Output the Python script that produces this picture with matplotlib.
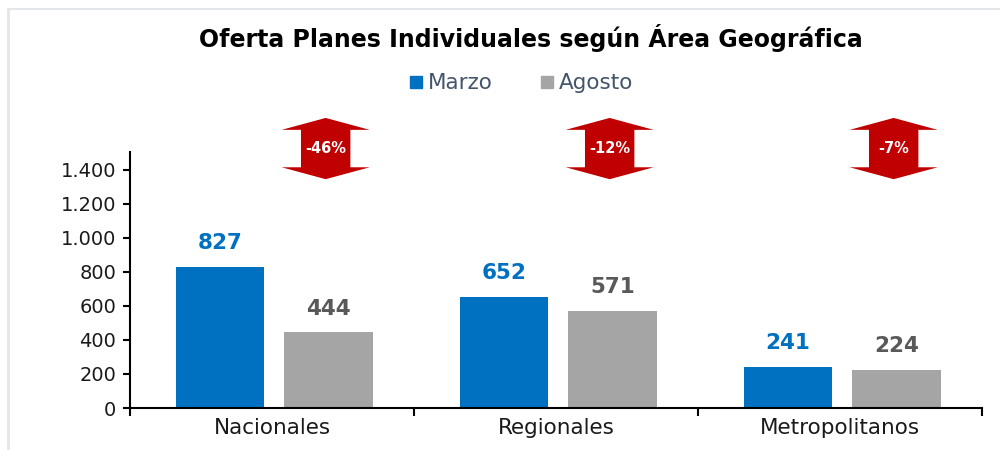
import matplotlib
matplotlib.use("Agg")
import matplotlib.pyplot as plt
from matplotlib.patches import Polygon
from matplotlib.lines import Line2D
import numpy as np

categories = ["Nacionales", "Regionales", "Metropolitanos"]
marzo = [827, 652, 241]
agosto = [444, 571, 224]
variacion = ["-46%", "-12%", "-7%"]
yticks = [0, 200, 400, 600, 800, 1000, 1200, 1400]
ytick_labels = ["0", "200", "400", "600", "800", "1.000", "1.200", "1.400"]

c_marzo = "#0070C0"
c_agosto = "#A5A5A5"
c_arrow = "#C00000"

fig = plt.figure(figsize=(10, 4.5), dpi=100)
ax = fig.add_axes([0.13, 0.0933, 0.852, 0.569])

x = np.arange(len(categories))
w = 0.31
off_m, off_a = -0.183, 0.199
ax.bar(x + off_m, marzo, w, color=c_marzo)
ax.bar(x + off_a, agosto, w, color=c_agosto)

for xi, v in zip(x + off_m, marzo):
    ax.annotate(f"{v}", (xi, v), xytext=(0, 10), textcoords="offset points",
                ha="center", va="bottom", fontsize=15.5, fontweight="bold",
                color=c_marzo)
for xi, v in zip(x + off_a, agosto):
    ax.annotate(f"{v}", (xi, v), xytext=(0, 10), textcoords="offset points",
                ha="center", va="bottom", fontsize=15.5, fontweight="bold",
                color="#595959")

# double arrows
top, bot, h = 1705, 1345, 70
hw, sw = 0.155, 0.087
for xi, lab in zip(x + off_a, variacion):
    xc = xi - 0.01
    pts = [(xc, top), (xc + hw, top - h), (xc + sw, top - h), (xc + sw, bot + h),
           (xc + hw, bot + h), (xc, bot), (xc - hw, bot + h), (xc - sw, bot + h),
           (xc - sw, top - h), (xc - hw, top - h)]
    ax.add_patch(Polygon(pts, closed=True, facecolor=c_arrow, edgecolor="none",
                         clip_on=False))
    ax.text(xc, (top + bot) / 2, lab, ha="center", va="center", color="white",
            fontsize=10.5, fontweight="bold", clip_on=False)

ax.set_xlim(-0.5, 2.5)
ax.set_ylim(0, 1505)
ax.set_yticks(yticks)
ax.set_yticklabels(ytick_labels)
ax.set_xticks(x)
ax.set_xticklabels(categories)
ax.set_xticks([-0.5, 0.5, 1.5, 2.5], minor=True)
ax.tick_params(axis="x", which="major", length=0, pad=7, labelsize=15.5,
               labelcolor="#1a1a1a")
ax.tick_params(axis="x", which="minor", length=6, width=1.5, direction="out")
ax.tick_params(axis="y", length=5, width=1.5, direction="out", pad=5,
               labelsize=14, labelcolor="#1a1a1a")
for s in ["top", "right"]:
    ax.spines[s].set_visible(False)
for s in ["left", "bottom"]:
    ax.spines[s].set_linewidth(1.5)
    ax.spines[s].set_color("black")

fig.text(0.531, 0.915, "Oferta Planes Individuales según Área Geográfica",
         ha="center", va="center", fontsize=17, fontweight="bold", color="black")

handles = [Line2D([], [], marker="s", linestyle="none", markersize=9,
                  color=c_marzo),
           Line2D([], [], marker="s", linestyle="none", markersize=9,
                  color=c_agosto)]
fig.legend(handles, ["Marzo", "Agosto"], loc="center", bbox_to_anchor=(0.519, 0.815),
           ncol=2, frameon=False, fontsize=15.5, handletextpad=0.05,
           columnspacing=2.0, handlelength=1.0, labelcolor="#44546A")

# light frame lines
fig.add_artist(Line2D([0.008, 0.008], [0.0, 0.98], transform=fig.transFigure,
                      color="#E3E6EA", lw=2))
fig.add_artist(Line2D([0.008, 1.0], [0.98, 0.98], transform=fig.transFigure,
                      color="#E3E6EA", lw=1.5))

fig.savefig("out.png", dpi=100, facecolor="white")
